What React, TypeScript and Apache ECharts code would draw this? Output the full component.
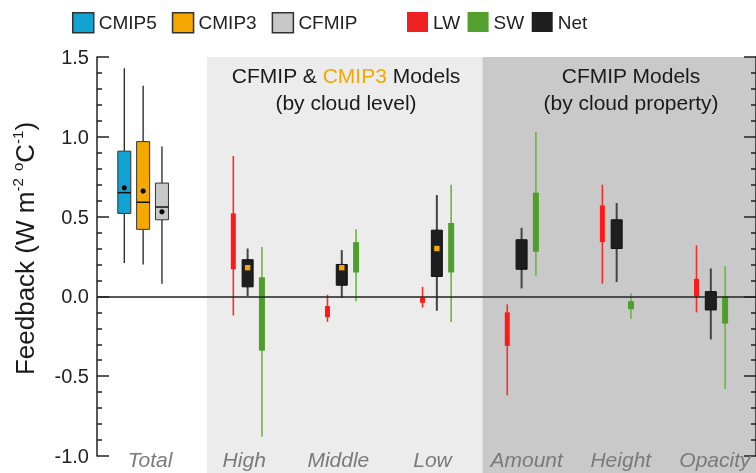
import React, { useEffect, useRef } from 'react';
import * as echarts from 'echarts';

// ---------- data ----------
const X_LABELS = ['Total', 'High', 'Middle', 'Low', 'Amount', 'Height', 'Opacity'];

// Total feedback box plots: [min, q1, median, q3, max]
const CMIP5_TOTAL = [0.21, 0.52, 0.65, 0.91, 1.43];
const CMIP3_TOTAL = [0.2, 0.42, 0.59, 0.97, 1.32];
const CFMIP_TOTAL = [0.08, 0.48, 0.56, 0.71, 0.94];
const TOTAL_MEANS = [0.68, 0.66, 0.53]; // CMIP5, CMIP3, CFMIP

// Decomposed feedbacks [min, q1, q3, max]; High, Middle, Low, Amount, Height, Opacity
const LW_RANGES = [
  [-0.12, 0.17, 0.52, 0.88],
  [-0.16, -0.13, -0.06, 0.01],
  [-0.07, -0.04, -0.01, 0.06],
  [-0.62, -0.31, -0.1, -0.05],
  [0.08, 0.34, 0.57, 0.7],
  [-0.1, 0.0, 0.11, 0.32],
];
const SW_RANGES = [
  [-0.88, -0.34, 0.12, 0.31],
  [-0.03, 0.15, 0.34, 0.42],
  [-0.16, 0.15, 0.46, 0.7],
  [0.13, 0.28, 0.65, 1.03],
  [-0.14, -0.08, -0.03, 0.02],
  [-0.58, -0.17, 0.0, 0.19],
];
const NET_RANGES = [
  [0.0, 0.06, 0.23, 0.3],
  [-0.01, 0.07, 0.2, 0.29],
  [-0.09, 0.125, 0.415, 0.635],
  [0.05, 0.17, 0.355, 0.43],
  [0.09, 0.3, 0.48, 0.585],
  [-0.27, -0.085, 0.03, 0.175],
];
const CMIP3_NET_MEANS = [0.18, 0.18, 0.3]; // High, Middle, Low

// ---------- layout / style ----------
const FONT = 'Liberation Sans, Arial, Helvetica, sans-serif';
const GROUP_SHIFT = [-0.01, 0.1, 0.1, 0.11, 0.01, 0.02, 0.02];
const TOTAL_STEP = 0.2;
const DECOMP_STEP = 0.152;
const BANDS = [
  [0.667, 3.594],
  [3.594, 7.2],
];
const BAND_COLORS = ['#ececec', '#c9c9c9'];
const C_CMIP5 = '#12a3d3';
const C_CMIP3 = '#f5a800';
const C_CFMIP = '#c8c8c8';
const C_LW = '#ee2222';
const C_SW = '#53a02f';
const C_NET = '#1e1e1e';

function totalBox(offset: number, fill: string, mean: number) {
  return (params: any, api: any) => {
    const g = api.value(0);
    const xv = g + GROUP_SHIFT[g] + offset;
    const x = api.coord([xv, 0])[0];
    const y = (v: number) => api.coord([xv, v])[1];
    const yMin = y(api.value(1));
    const yQ1 = y(api.value(2));
    const yMed = y(api.value(3));
    const yQ3 = y(api.value(4));
    const yMax = y(api.value(5));
    const w = 13;
    return {
      type: 'group',
      children: [
        { type: 'line', shape: { x1: x, y1: yMax, x2: x, y2: yQ3 }, style: { stroke: '#222', lineWidth: 1.3 } },
        { type: 'line', shape: { x1: x, y1: yQ1, x2: x, y2: yMin }, style: { stroke: '#222', lineWidth: 1.3 } },
        { type: 'rect', shape: { x: x - w / 2, y: yQ3, width: w, height: yQ1 - yQ3 }, style: { fill, stroke: '#333', lineWidth: 1 } },
        { type: 'line', shape: { x1: x - w / 2, y1: yMed, x2: x + w / 2, y2: yMed }, style: { stroke: '#111', lineWidth: 1.5 } },
        { type: 'circle', shape: { cx: x, cy: y(mean), r: 2.6 }, style: { fill: '#000' } },
      ],
    };
  };
}

function rangeBar(offset: number, fill: string, whisker: string, barW: number, whiskerW: number, stroke?: string) {
  return (params: any, api: any) => {
    const g = api.value(0);
    const xv = g + GROUP_SHIFT[g] + offset;
    const x = api.coord([xv, 0])[0];
    const y = (v: number) => api.coord([xv, v])[1];
    const yMin = y(api.value(1));
    const yQ1 = y(api.value(2));
    const yQ3 = y(api.value(3));
    const yMax = y(api.value(4));
    return {
      type: 'group',
      children: [
        { type: 'line', shape: { x1: x, y1: yMax, x2: x, y2: yMin }, style: { stroke: whisker, lineWidth: whiskerW } },
        {
          type: 'rect',
          shape: { x: x - barW / 2, y: yQ3, width: barW, height: yQ1 - yQ3 },
          style: stroke ? { fill, stroke, lineWidth: 1 } : { fill },
        },
      ],
    };
  };
}

export default function App() {
  const ref = useRef<HTMLDivElement>(null);
  useEffect(() => {
    if (!ref.current) return;
    const chart = echarts.init(ref.current, undefined, { renderer: 'svg' });

    const totalData = (arr: number[]) => [[0, ...arr]];
    const decompData = (ranges: number[][]) => ranges.map((r, i) => [i + 1, ...r]);

    const yAxisBase = {
      type: 'value',
      min: -1,
      max: 1.5,
      interval: 0.5,
      splitLine: { show: false },
      axisLine: { show: true, onZero: false, lineStyle: { color: '#222', width: 1.5 } },
      axisTick: { show: true, inside: true, length: 12, lineStyle: { color: '#222', width: 1.5 } },
      minorTick: { show: true, splitNumber: 5, length: 5, lineStyle: { color: '#222', width: 1.5 } },
    };

    const option: any = {
      animation: false,
      textStyle: { fontFamily: FONT },
      grid: { left: 97, right: -1, top: 57, bottom: 17, containLabel: false },
      legend: [
        {
          left: 67,
          top: 7,
          itemWidth: 21,
          itemHeight: 20,
          itemGap: 15,
          icon: 'rect',
          textStyle: { fontSize: 19, color: '#222', fontFamily: FONT },
          data: [
            { name: 'CMIP5', itemStyle: { borderColor: '#333', borderWidth: 1.5 } },
            { name: 'CMIP3', itemStyle: { borderColor: '#333', borderWidth: 1.5 } },
            { name: 'CFMIP', itemStyle: { borderColor: '#333', borderWidth: 1.5 } },
          ],
        },
        {
          left: 402,
          top: 7,
          itemWidth: 21,
          itemHeight: 20,
          itemGap: 7.5,
          icon: 'rect',
          textStyle: { fontSize: 19, color: '#222', fontFamily: FONT },
          data: ['LW', 'SW', 'Net'],
        },
      ],
      xAxis: [
        { type: 'value', min: -0.5, max: 6.5, show: false },
        {
          type: 'category',
          data: X_LABELS,
          position: 'bottom',
          axisLine: { show: false, onZero: false },
          axisTick: { show: false },
          axisLabel: {
            fontSize: 21,
            fontStyle: 'italic',
            color: '#7a7a7a',
            margin: 3,
            verticalAlign: 'middle',
            padding: [0, 0, 0, 12],
            fontFamily: FONT,
          },
        },
      ],
      yAxis: [
        {
          ...yAxisBase,
          position: 'left',
          name: 'Feedback (W m{sup|-2} {sup|o}C{sup|-1})',
          nameLocation: 'middle',
          nameRotate: 90,
          nameGap: 57,
          nameTextStyle: {
            fontSize: 26,
            color: '#1a1a1a',
            fontFamily: FONT,
            padding: [0, 0, 0, 16],
            lineHeight: 30,
            rich: { sup: { fontSize: 15, verticalAlign: 'top', lineHeight: 30, fontFamily: FONT, color: '#1a1a1a' } },
          },
          axisLabel: {
            fontSize: 20,
            color: '#222',
            margin: 8,
            fontFamily: FONT,
            formatter: (v: number) => v.toFixed(1),
          },
        },
        {
          ...yAxisBase,
          position: 'right',
          axisLabel: { show: false },
        },
      ],
      graphic: [
        {
          type: 'text',
          x: 346,
          y: 62,
          z: 10,
          style: {
            text: 'CFMIP & {o|CMIP3} Models\n(by cloud level)',
            align: 'center',
            fill: '#1a1a1a',
            fontSize: 21,
            lineHeight: 27,
            fontFamily: FONT,
            rich: { o: { fill: C_CMIP3, fontSize: 21, lineHeight: 27, fontFamily: FONT } },
          },
        },
        {
          type: 'text',
          x: 631,
          y: 62,
          z: 10,
          style: {
            text: 'CFMIP Models\n(by cloud property)',
            align: 'center',
            fill: '#1a1a1a',
            fontSize: 21,
            lineHeight: 27,
            fontFamily: FONT,
          },
        },
      ],
      series: [
        {
          type: 'custom',
          name: 'bands',
          silent: true,
          z: -1,
          xAxisIndex: 0,
          yAxisIndex: 0,
          data: BANDS.map((b, i) => [b[0], b[1], i]),
          renderItem: (params: any, api: any) => {
            const p0 = api.coord([api.value(0), 1.5]);
            const p1 = api.coord([api.value(1), 1.5]);
            return {
              type: 'rect',
              shape: { x: p0[0], y: p0[1], width: p1[0] - p0[0], height: api.getHeight() - p0[1] },
              style: { fill: BAND_COLORS[api.value(2)] },
            };
          },
          markLine: {
            silent: true,
            symbol: ['none', 'none'],
            label: { show: false },
            lineStyle: { color: '#222', width: 1.5, type: 'solid' },
            data: [{ yAxis: 0 }],
          },
        },
        {
          type: 'custom',
          name: 'CMIP5',
          xAxisIndex: 0,
          yAxisIndex: 0,
          itemStyle: { color: C_CMIP5 },
          data: totalData(CMIP5_TOTAL),
          renderItem: totalBox(-TOTAL_STEP, C_CMIP5, TOTAL_MEANS[0]),
        },
        {
          type: 'custom',
          name: 'CMIP3',
          xAxisIndex: 0,
          yAxisIndex: 0,
          itemStyle: { color: C_CMIP3 },
          data: totalData(CMIP3_TOTAL),
          renderItem: totalBox(0, C_CMIP3, TOTAL_MEANS[1]),
        },
        {
          type: 'custom',
          name: 'CFMIP',
          xAxisIndex: 0,
          yAxisIndex: 0,
          itemStyle: { color: C_CFMIP },
          data: totalData(CFMIP_TOTAL),
          renderItem: totalBox(TOTAL_STEP, C_CFMIP, TOTAL_MEANS[2]),
        },
        {
          type: 'custom',
          name: 'LW',
          xAxisIndex: 0,
          yAxisIndex: 0,
          itemStyle: { color: C_LW },
          data: decompData(LW_RANGES),
          renderItem: rangeBar(-DECOMP_STEP, '#ff1a1a', '#ff2a2a', 5, 1.6),
        },
        {
          type: 'custom',
          name: 'Net',
          xAxisIndex: 0,
          yAxisIndex: 0,
          itemStyle: { color: C_NET },
          data: decompData(NET_RANGES),
          renderItem: rangeBar(0, '#1e1e1e', '#444', 11, 2, '#111'),
        },
        {
          type: 'custom',
          name: 'SW',
          xAxisIndex: 0,
          yAxisIndex: 0,
          itemStyle: { color: C_SW },
          data: decompData(SW_RANGES),
          renderItem: rangeBar(DECOMP_STEP, '#4f9d2b', '#6ab53f', 6, 1.6),
        },
        {
          type: 'custom',
          name: 'CMIP3 mean',
          xAxisIndex: 0,
          yAxisIndex: 0,
          z: 3,
          data: CMIP3_NET_MEANS.map((v, i) => [i + 1, v]),
          renderItem: (params: any, api: any) => {
            const g = api.value(0);
            const p = api.coord([g + GROUP_SHIFT[g], api.value(1)]);
            return { type: 'rect', shape: { x: p[0] - 2.7, y: p[1] - 2.7, width: 5.4, height: 5.4 }, style: { fill: C_CMIP3 } };
          },
        },
      ],
    };
    chart.setOption(option);
    return () => chart.dispose();
  }, []);
  return <div ref={ref} style={{ position: 'fixed', left: 0, top: 0, width: 756, height: 473 }} />;
}
